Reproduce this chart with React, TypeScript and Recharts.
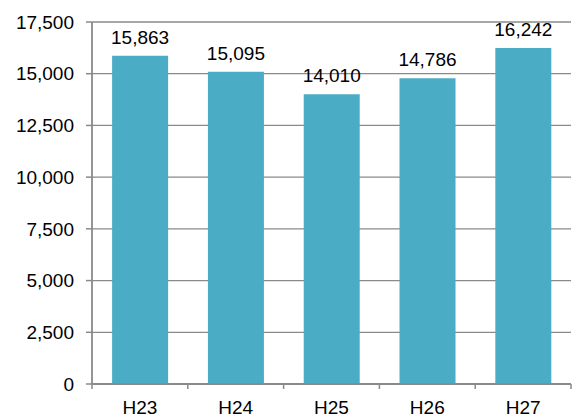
import { BarChart, Bar, XAxis, YAxis, CartesianGrid, LabelList } from "recharts";

const categories = ["H23", "H24", "H25", "H26", "H27"];
const values = [15863, 15095, 14010, 14786, 16242];
const yTicks = [0, 2500, 5000, 7500, 10000, 12500, 15000, 17500];

const data = categories.map((name, i) => ({ name, value: values[i] }));

const fmt = (v: number) => v.toLocaleString("en-US");
const font = "'Liberation Sans', Arial, sans-serif";
const gray = "#8a8a8a";

// category label plus tick marks at the band edges
const CatTick = (props: any) => {
  const { x, y, payload, index } = props;
  const half = payload.offset || 0;
  const axisY = 384;
  return (
    <g>
      <line x1={x - half} x2={x - half} y1={axisY} y2={axisY + 5} stroke={gray} strokeWidth={1.5} />
      {index === categories.length - 1 && (
        <line x1={x + half} x2={x + half} y1={axisY} y2={axisY + 5} stroke={gray} strokeWidth={1.5} />
      )}
      <text x={x} y={y} dy="0.71em" textAnchor="middle" fill="#000" fontSize={19} fontFamily={font}>
        {payload.value}
      </text>
    </g>
  );
};

export default function App() {
  return (
    <div style={{ width: 575, height: 417, fontFamily: font }}>
      <style>{"body{margin:0}"}</style>
      <BarChart
        width={575}
        height={417}
        data={data}
        margin={{ top: 22, right: 4, bottom: 0, left: 0 }}
        barCategoryGap="21%"
      >
        <CartesianGrid vertical={false} stroke={gray} strokeWidth={1.3} />
        <XAxis
          dataKey="name"
          height={33}
          tickLine={false}
          tickSize={5}
          tickMargin={12}
          interval={0}
          axisLine={{ stroke: gray, strokeWidth: 1.8 }}
          tick={<CatTick />}
        />
        <YAxis
          width={92}
          domain={[0, 17500]}
          ticks={yTicks}
          interval={0}
          tickFormatter={fmt}
          tickSize={6}
          tickMargin={12}
          axisLine={{ stroke: gray, strokeWidth: 1.8 }}
          tickLine={{ stroke: gray, strokeWidth: 1.5 }}
          tick={{ fill: "#000", fontSize: 19, fontFamily: font }}
        />
        <Bar dataKey="value" fill="#4BACC6" isAnimationActive={false}>
          <LabelList
            dataKey="value"
            position="top"
            offset={12}
            formatter={(v: any) => fmt(Number(v))}
            style={{ fill: "#000", fontSize: 19, fontFamily: font }}
          />
        </Bar>
      </BarChart>
    </div>
  );
}
